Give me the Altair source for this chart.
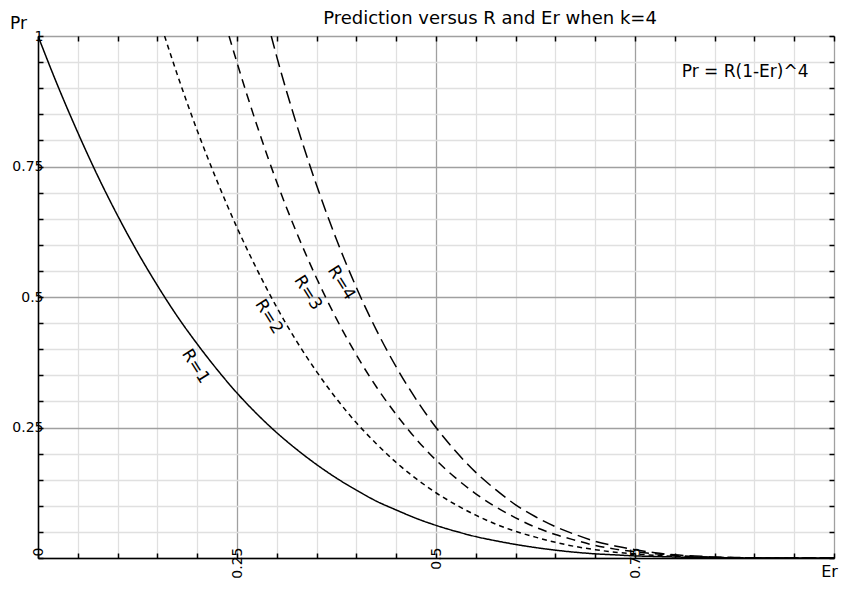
import altair as alt
import pandas as pd

# ---- data ----
er_r1 = [0.0, 0.025, 0.05, 0.075, 0.1, 0.125, 0.15, 0.175, 0.2, 0.225, 0.25, 0.275, 0.3, 0.325,
         0.35, 0.375, 0.4, 0.425, 0.45, 0.475, 0.5, 0.525, 0.55, 0.575, 0.6, 0.625, 0.65, 0.675,
         0.7, 0.725, 0.75, 0.775, 0.8, 0.825, 0.85, 0.875, 0.9, 0.925, 0.95, 0.975, 1.0]
pr_r1 = [1.0, 0.904, 0.815, 0.732, 0.656, 0.586, 0.522, 0.463, 0.410, 0.361, 0.316, 0.276, 0.240,
         0.208, 0.179, 0.153, 0.130, 0.109, 0.092, 0.076, 0.0625, 0.051, 0.041, 0.033, 0.026,
         0.020, 0.015, 0.011, 0.008, 0.006, 0.004, 0.003, 0.002, 0.001, 0.0005, 0.0002, 0.0001,
         0.0, 0.0, 0.0, 0.0]

er_r2 = [0.159, 0.175, 0.2, 0.225, 0.25, 0.275, 0.3, 0.325, 0.35, 0.375, 0.4, 0.425, 0.45, 0.475,
         0.5, 0.525, 0.55, 0.575, 0.6, 0.625, 0.65, 0.675, 0.7, 0.725, 0.75, 0.775, 0.8, 0.825,
         0.85, 0.875, 0.9, 0.925, 0.95, 0.975, 1.0]
pr_r2 = [1.0, 0.926, 0.819, 0.722, 0.633, 0.553, 0.480, 0.415, 0.357, 0.305, 0.259, 0.219, 0.183,
         0.152, 0.125, 0.102, 0.082, 0.065, 0.051, 0.040, 0.030, 0.022, 0.016, 0.011, 0.008,
         0.005, 0.003, 0.002, 0.001, 0.0005, 0.0002, 0.0001, 0.0, 0.0, 0.0]

er_r3 = [0.240, 0.25, 0.275, 0.3, 0.325, 0.35, 0.375, 0.4, 0.425, 0.45, 0.475, 0.5, 0.525, 0.55,
         0.575, 0.6, 0.625, 0.65, 0.675, 0.7, 0.725, 0.75, 0.775, 0.8, 0.825, 0.85, 0.875, 0.9,
         0.925, 0.95, 0.975, 1.0]
pr_r3 = [1.0, 0.949, 0.829, 0.720, 0.623, 0.536, 0.458, 0.389, 0.328, 0.275, 0.228, 0.1875, 0.153,
         0.123, 0.098, 0.077, 0.059, 0.045, 0.034, 0.024, 0.017, 0.012, 0.008, 0.005, 0.003,
         0.0015, 0.0007, 0.0003, 0.0001, 0.0, 0.0, 0.0]

er_r4 = [0.293, 0.3, 0.325, 0.35, 0.375, 0.4, 0.425, 0.45, 0.475, 0.5, 0.525, 0.55, 0.575, 0.6,
         0.625, 0.65, 0.675, 0.7, 0.725, 0.75, 0.775, 0.8, 0.825, 0.85, 0.875, 0.9, 0.925, 0.95,
         0.975, 1.0]
pr_r4 = [1.0, 0.960, 0.830, 0.714, 0.610, 0.518, 0.437, 0.366, 0.304, 0.25, 0.204, 0.164, 0.131,
         0.102, 0.079, 0.060, 0.045, 0.032, 0.023, 0.016, 0.010, 0.006, 0.004, 0.002, 0.001,
         0.0004, 0.0001, 0.0, 0.0, 0.0]

series_names = ["R=1", "R=2", "R=3", "R=4"]
tick_values = [0.0, 0.05, 0.1, 0.15, 0.2, 0.25, 0.3, 0.35, 0.4, 0.45, 0.5, 0.55, 0.6, 0.65,
               0.7, 0.75, 0.8, 0.85, 0.9, 0.95, 1.0]
x_label_values = [0.0, 0.25, 0.5, 0.75]
y_label_values = [0.25, 0.5, 0.75, 1.0]

# curve labels (position)
label_text = ["R=1", "R=2", "R=3", "R=4"]
label_er = [0.198, 0.290, 0.339, 0.381]
label_pr = [0.367, 0.462, 0.508, 0.527]

formula_text = ["Pr = R(1-Er)^4"]
formula_er = [0.968]
formula_pr = [0.931]

# ---- build tables ----
rows = []
for name, xs, ys in zip(series_names, [er_r1, er_r2, er_r3, er_r4], [pr_r1, pr_r2, pr_r3, pr_r4]):
    for i, (x, y) in enumerate(zip(xs, ys)):
        rows.append({"Er": x, "Pr": y, "R": name, "i": i})
df = pd.DataFrame(rows)
df_labels = pd.DataFrame({"Er": label_er, "Pr": label_pr, "t": label_text})
df_formula = pd.DataFrame({"Er": formula_er, "Pr": formula_pr, "t": formula_text})

FONT = "DejaVu Sans"
W, H = 796, 522

major_test = "abs(datum.value*4 - round(datum.value*4)) < 0.001"
grid_color = {"condition": {"test": major_test, "value": "#a0a0a0"}, "value": "#e0e0e0"}

x_scale = alt.Scale(domain=[0, 1], nice=False, zero=False)
y_scale = alt.Scale(domain=[0, 1], nice=False, zero=False)

x_lbl_test = " || ".join(f"datum.value == {v}" for v in x_label_values)
y_lbl_test = " || ".join(f"datum.value == {v}" for v in y_label_values)

x_axis = alt.Axis(
    orient="bottom", values=tick_values, format=".2~f",
    labelExpr=f"({x_lbl_test}) ? datum.label : ''",
    labelAngle=270, labelAlign="right", labelBaseline="middle", labelPadding=-6,
    labelFont=FONT, labelFontSize=14, labelColor="black", labelOverlap=False,
    labelFlush=False,
    grid=True, gridColor=grid_color, gridWidth=1.3,
    domain=True, domainColor="black", domainWidth=1.5,
    ticks=True, tickColor="black", tickWidth=1.5, tickSize={"expr": "-5"},
    title="Er", titleAngle=0, titleX=W - 5, titleY=13, titleAlign="center",
    titleBaseline="middle", titleFont=FONT, titleFontSize=16, titleFontWeight="normal",
    titleColor="black",
)
y_axis = alt.Axis(
    orient="left", values=tick_values, format=".2~f",
    labelExpr=f"({y_lbl_test}) ? datum.label : ''",
    labelPadding=0, labelFont=FONT, labelFontSize=14, labelColor="black",
    labelOverlap=False, labelFlush=False, labelBaseline="middle",
    grid=True, gridColor=grid_color, gridWidth=1.3,
    domain=True, domainColor="black", domainWidth=1.5,
    ticks=True, tickColor="black", tickWidth=1.5, tickSize={"expr": "-5"},
    title="Pr", titleAngle=0, titleX=-20, titleY=-13, titleAlign="center",
    titleBaseline="middle", titleFont=FONT, titleFontSize=17, titleFontWeight="normal",
    titleColor="black",
)

lines = alt.Chart(df).mark_line(
    color="black", strokeWidth=1.5, interpolate="monotone", clip=True
).encode(
    x=alt.X("Er:Q", scale=x_scale, axis=x_axis),
    y=alt.Y("Pr:Q", scale=y_scale, axis=y_axis),
    strokeDash=alt.StrokeDash(
        "R:N",
        scale=alt.Scale(domain=series_names, range=[[1, 0], [5, 4], [9, 6], [13, 6]]),
        legend=None,
    ),
    detail="R:N",
    order="i:Q",
)

x_axis_top = alt.Axis(
    orient="top", values=tick_values, labels=False, grid=False, domain=False,
    ticks=True, tickColor="black", tickWidth=1.5, tickSize={"expr": "-5"}, title=None,
)
y_axis_right = alt.Axis(
    orient="right", values=tick_values, labels=False, grid=False, domain=False,
    ticks=True, tickColor="black", tickWidth=1.5, tickSize={"expr": "-5"}, title=None,
)

curve_labels = alt.Chart(df_labels).mark_text(
    font=FONT, fontSize=17, angle=58, color="black", align="center", baseline="middle"
).encode(
    x=alt.X("Er:Q", scale=x_scale, axis=x_axis_top),
    y=alt.Y("Pr:Q", scale=y_scale, axis=y_axis_right),
    text="t:N",
)

formula = alt.Chart(df_formula).mark_text(
    font=FONT, fontSize=17, color="black", align="right", baseline="middle"
).encode(
    x=alt.X("Er:Q", scale=x_scale, axis=None),
    y=alt.Y("Pr:Q", scale=y_scale, axis=None),
    text="t:N",
)

chart = alt.layer(lines, curve_labels, formula).resolve_axis(
    x="independent", y="independent"
).properties(
    width=W, height=H,
    autosize=alt.AutoSizeParams(type="none"),
    padding={"left": 30, "top": 28, "right": 8, "bottom": 22},
    title=alt.TitleParams(
        "Prediction versus R and Er when k=4", font=FONT, fontSize=18,
        fontWeight="normal", color="black", anchor="middle", dx=54, offset=-14,
    ),
).configure_view(
    stroke="black", strokeWidth=1.5
).configure(background="white")

chart.save("out.html", embed_options={"renderer": "svg", "actions": False})
